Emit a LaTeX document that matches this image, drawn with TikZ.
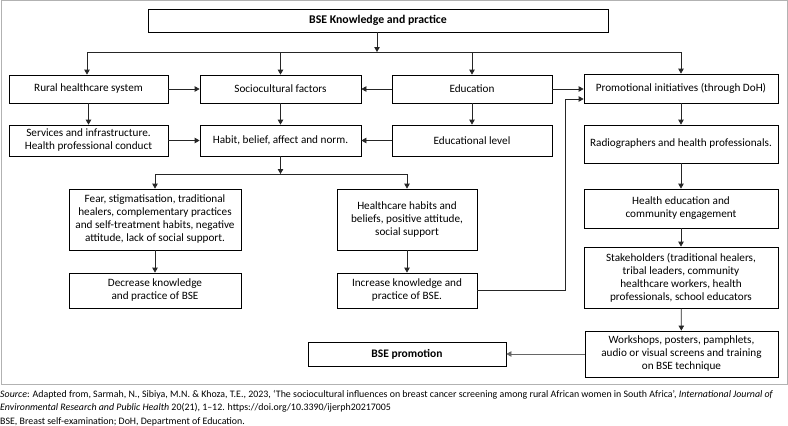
\documentclass[tikz,border=0pt]{standalone}
\usepackage{fontspec}
\setmainfont{Carlito}
\usetikzlibrary{arrows.meta}
\begin{document}
\begin{tikzpicture}[x=1pt,y=-1pt,
  box/.style={draw, line width=0.8pt, align=center, inner sep=2pt, font=\fontsize{11.2}{13}\selectfont},
  ln/.style={line width=0.8pt, draw=black!85},
  arr/.style={ln, -{Triangle[length=5pt,width=5.5pt]}},
  note/.style={anchor=base west, inner sep=0pt, font=\fontsize{9.9}{11}\selectfont}]
\useasboundingbox (0,0) rectangle (788,426);
\draw[gray!60, line width=1pt] (1,0.5) rectangle (787,384);
% boxes
\node[box, minimum width=460pt, minimum height=23pt, font=\fontsize{11.8}{13}\selectfont\bfseries] (top) at (378,20.5) {BSE Knowledge and practice};
\node[box, minimum width=159pt, minimum height=28pt] (rural) at (88.5,89) {Rural healthcare system};
\node[box, minimum width=161pt, minimum height=28pt] (socio) at (280.5,89) {Sociocultural factors};
\node[box, minimum width=160pt, minimum height=28pt] (edu) at (472,89) {Education};
\node[box, minimum width=194pt, minimum height=29pt] (promo) at (681,88.5) {Promotional initiatives (through DoH)};
\node[box, minimum width=159pt, minimum height=31pt] (serv) at (88.5,140.5) {Services and infrastructure.\\Health professional conduct};
\node[box, minimum width=161pt, minimum height=31pt] (habit) at (280.5,140.5) {Habit, belief, affect and norm.};
\node[box, minimum width=160pt, minimum height=31pt] (edlev) at (472,140.5) {Educational level};
\node[box, minimum width=194pt, minimum height=38pt] (radio) at (681,144) {Radiographers and health professionals.};
\node[box, minimum width=172pt, minimum height=61pt] (fear) at (155,219.5) {Fear, stigmatisation, traditional\\healers, complementary practices\\and self-treatment habits, negative\\attitude, lack of social support.};
\node[box, minimum width=140pt, minimum height=61pt] (hc) at (407,219.5) {Healthcare habits and\\beliefs, positive attitude,\\social support};
\node[box, minimum width=172pt, minimum height=35pt] (dec) at (155,290.5) {Decrease knowledge\\and practice of BSE};
\node[box, minimum width=140pt, minimum height=35pt] (inc) at (407,290.5) {Increase knowledge and\\practice of BSE.};
\node[box, minimum width=194pt, minimum height=39pt] (hedu) at (681,208.5) {Health education and\\community engagement};
\node[box, minimum width=194pt, minimum height=61pt] (stake) at (681,277.5) {Stakeholders (traditional healers,\\tribal leaders, community\\healthcare workers, health\\professionals, school educators};
\node[box, minimum width=193pt, minimum height=46pt] (work) at (681.5,354) {Workshops, posters, pamphlets,\\audio or visual screens and training\\on BSE technique};
\node[box, minimum width=198pt, minimum height=24pt, font=\fontsize{11.5}{13}\selectfont\bfseries] (bsep) at (407,354) {BSE promotion};
% connectors
\coordinate (j1) at (377,52);
\coordinate (jl) at (87,52);
\coordinate (jr) at (681,52);
\draw[arr] (top.south -| j1) -- (j1);
\draw[ln] (jl) -- (jr);
\draw[arr] (jl) -- (jl |- rural.north);
\draw[arr] (socio.north |- j1) -- (socio.north);
\draw[arr] (edu.north |- j1) -- (edu.north);
\draw[arr] (jr) -- (promo.north);
\draw[arr] (rural) -- (socio);
\draw[arr] (edu) -- (socio);
\draw[arr] (edu.east) -- (edu.east -| promo.west);
\draw[arr] (rural) -- (serv);
\draw[arr] (socio) -- (habit);
\draw[arr] (edu) -- (edlev);
\draw[arr] (serv) -- (habit);
\draw[arr] (edlev) -- (habit);
\coordinate (j2) at (280.5,174);
\draw[arr] (habit) -- (j2);
\draw[ln] (fear.north |- j2) -- (hc.north |- j2);
\draw[arr] (fear.north |- j2) -- (fear.north);
\draw[arr] (hc.north |- j2) -- (hc.north);
\draw[arr] (fear) -- (dec);
\draw[arr] (hc) -- (inc);
\coordinate (k) at (565,99);
\draw[arr] (inc.east) -| (k) -- (k -| promo.west);
\draw[arr] (promo) -- (radio);
\draw[arr] (radio) -- (hedu);
\draw[arr] (hedu) -- (stake);
\draw[arr] (stake) -- (work);
\draw[arr, draw=black!60] (work) -- (bsep);
% notes
\node[note] (n1) at (0,397) {\textit{Source}: Adapted from, Sarmah, N., Sibiya, M.N. \& Khoza, T.E., 2023, ‘The sociocultural influences on breast cancer screening among rural African women in South Africa’, \textit{International Journal of}};
\node[note] (n2) at (0,410) {\textit{Environmental Research and Public Health} 20(21), 1–12. https://doi.org/10.3390/ijerph20217005};
\node[note] (n3) at (0,424) {BSE, Breast self-examination; DoH, Department of Education.};
\end{tikzpicture}
\end{document}
